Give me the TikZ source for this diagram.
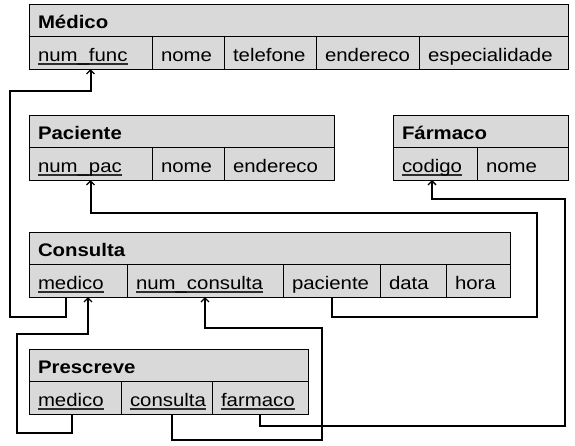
\documentclass[tikz,border=0pt]{standalone}
\usepackage{fontspec}
\setmainfont{Liberation Sans}[FakeStretch=1.12]
\usepackage{tikz}
\usetikzlibrary{positioning,arrows.meta}
\definecolor{cellColor}{RGB}{217,217,217}
\definecolor{keyColor}{RGB}{45,45,45}
\tikzstyle{schema} = [x = 1pt, y = -1pt, font=\fontsize{18.2}{20}\selectfont]
\tikzstyle{cellStyle} = [draw=black, fill=cellColor, line width=0.9pt, anchor=north west, minimum height=32.5pt, inner xsep=9pt, inner ysep=0pt, outer sep=0pt, align=left, text height=16.8pt, text depth=0pt]
\tikzstyle{titleStyle} = [cellStyle, font=\fontsize{18.2}{20}\selectfont\bfseries]
\tikzstyle{thickLink} = [line width=2pt, -{Straight Barb[length=4pt, width=8pt, line width=1.3pt]}]
\tikzstyle{thinLink} = [line width=1.3pt, -{Straight Barb[length=4pt, width=8pt, line width=1.3pt]}]
\newsavebox{\keyBox}
\newcommand{\keyText}[1]{\sbox{\keyBox}{#1}\rlap{\color{keyColor}\rule[-4.3pt]{\wd\keyBox}{2pt}}\usebox{\keyBox}}
\newcommand{\tableTitle}[5]{\pgfmathsetmacro{\textWidth}{#4 - 18}\node [titleStyle, text width=\textWidth pt] (#1) at (#2, #3) {#5};}
\newcommand{\firstCell}[4]{\pgfmathsetmacro{\textWidth}{#3 - 18}\node [cellStyle, text width=\textWidth pt] (#1) at (#2.south west) {#4};}
\newcommand{\attributeCell}[4]{\pgfmathsetmacro{\textWidth}{#3 - 18}\node [cellStyle, text width=\textWidth pt, right=0pt of #2] (#1) {#4};}

\begin{document}
\begin{tikzpicture}[schema]
          \useasboundingbox (0,0) rectangle (575,445);
          \tableTitle{medico}{29}{4}{539}{Médico}
          \firstCell{mNumFunc}{medico}{123}{\keyText{num\_func}}
          \attributeCell{mNome}{mNumFunc}{72}{nome}
          \attributeCell{mTelefone}{mNome}{92}{telefone}
          \attributeCell{mEndereco}{mTelefone}{103}{endereco}
          \attributeCell{mEspecialidade}{mEndereco}{149}{especialidade}

          \tableTitle{paciente}{29}{115}{305}{Paciente}
          \firstCell{pNumPac}{paciente}{123}{\keyText{num\_pac}}
          \attributeCell{pNome}{pNumPac}{72}{nome}
          \attributeCell{pEndereco}{pNome}{110}{endereco}

          \tableTitle{farmaco}{393}{115}{175}{Fármaco}
          \firstCell{fCodigo}{farmaco}{84}{\keyText{codigo}}
          \attributeCell{fNome}{fCodigo}{91}{nome}

          \tableTitle{consulta}{29}{232}{481}{Consulta}
          \firstCell{cMedico}{consulta}{98}{\keyText{medico}}
          \attributeCell{cNumConsulta}{cMedico}{156}{\keyText{num\_consulta}}
          \attributeCell{cPaciente}{cNumConsulta}{97}{paciente}
          \attributeCell{cData}{cPaciente}{66}{data}
          \attributeCell{cHora}{cData}{64}{hora}

          \tableTitle{prescreve}{29}{349}{279}{Prescreve}
          \firstCell{prMedico}{prescreve}{92}{\keyText{medico}}
          \attributeCell{prConsulta}{prMedico}{91}{\keyText{consulta}}
          \attributeCell{prFarmaco}{prConsulta}{96}{\keyText{farmaco}}

          \draw [thickLink] ([xshift=-12pt]cMedico.south) -- ++(0,20) -| ++(-56,-226) -| (mNumFunc.south);
          \draw [thickLink] (cPaciente.south) -- ++(0,20) -| ++(205,-104) -| (pNumPac.south);
          \draw [thinLink] (prFarmaco.south) -- ++(0,12) -| ++(305,-227) -| ([xshift=-3pt]fCodigo.south);
          \draw [thickLink] ([xshift=5pt]prConsulta.south) -- ++(0,26) -| ++(150,-112) -| (cNumConsulta.south);
          \draw [thinLink] ([xshift=-3pt]prMedico.south) -- ++(0,19) -| ++(-55,-99) -| ([xshift=10pt]cMedico.south);
        \end{tikzpicture}
\end{document}
